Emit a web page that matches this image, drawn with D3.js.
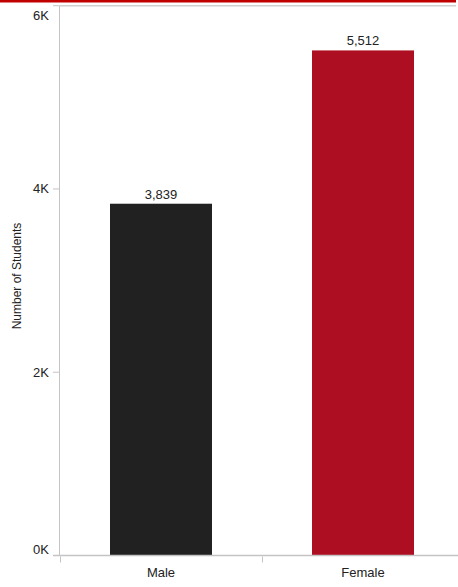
<!DOCTYPE html>
<html>
<head>
<meta charset="utf-8">
<script src="https://cdn.jsdelivr.net/npm/d3@7"></script>
<style>
  body { margin: 0; background: #fff; }
  text { font-family: "Liberation Sans", Arial, sans-serif; fill: #222; }
</style>
</head>
<body>
<div id="chart"></div>
<script>
// data
var categories = ["Male", "Female"];
var students = [3839, 5512];
var barColors = ["#212121", "#ae0e22"];
var yTicks = [0, 2000, 4000, 6000];

var w = 458, h = 587;
// plot edges (note: "top" is reserved on window, so use plotTop etc.)
var plotLeft = 60, plotRight = 464, plotTop = 5.7, plotBottom = 555.5;

var svg = d3.select("#chart").append("svg")
    .attr("width", w)
    .attr("height", h);

// red strip at the very top
svg.append("rect")
    .attr("x", 0).attr("y", 0)
    .attr("width", 456).attr("height", 2.5)
    .attr("fill", "#c00000");

var x = d3.scaleBand()
    .domain(categories)
    .range([plotLeft, plotRight])
    .paddingInner(0)
    .paddingOuter(0);

var y = d3.scaleLinear()
    .domain([0, 6000])
    .range([plotBottom, plotTop]);

// top border line
svg.append("line")
    .attr("x1", plotLeft).attr("x2", 456)
    .attr("y1", y(6000)).attr("y2", y(6000))
    .attr("stroke", "#d0d0d0").attr("stroke-width", 1.5);

// bars
svg.selectAll("rect.bar")
    .data(students)
    .enter()
    .append("rect")
    .attr("class", "bar")
    .attr("x", function(d, i) { return x(categories[i]) + x.bandwidth() / 2 - 51; })
    .attr("width", 102)
    .attr("y", function(d) { return y(d); })
    .attr("height", function(d) { return y(0) - y(d); })
    .attr("fill", function(d, i) { return barColors[i]; });

// value labels
svg.selectAll("text.val")
    .data(students)
    .enter()
    .append("text")
    .attr("class", "val")
    .attr("x", function(d, i) { return x(categories[i]) + x.bandwidth() / 2; })
    .attr("y", function(d) { return y(d) - 5; })
    .attr("text-anchor", "middle")
    .style("font-size", "13px")
    .text(function(d) { return d3.format(",")(d); });

// y axis line
svg.append("line")
    .attr("x1", plotLeft - 0.5).attr("x2", plotLeft - 0.5)
    .attr("y1", y(6000)).attr("y2", plotBottom)
    .attr("stroke", "#c4c4c4").attr("stroke-width", 1);

// y ticks and labels
svg.selectAll("line.ytick")
    .data(yTicks)
    .enter()
    .append("line")
    .attr("class", "ytick")
    .attr("x1", plotLeft - 7).attr("x2", plotLeft - 0.5)
    .attr("y1", function(d) { return y(d); })
    .attr("y2", function(d) { return y(d); })
    .attr("stroke", "#c4c4c4");

svg.selectAll("text.ylab")
    .data(yTicks)
    .enter()
    .append("text")
    .attr("class", "ylab")
    .attr("x", plotLeft - 11)
    .attr("y", function(d) {
        // keep the end labels inside the plot like the original
        var yy = y(d);
        if (d === 6000) yy = y(d) + 10;
        if (d === 0) yy = y(d) - 6;
        return yy + 4.5;
    })
    .attr("text-anchor", "end")
    .style("font-size", "13px")
    .text(function(d) { return (d / 1000) + "K"; });

// x baseline
svg.append("line")
    .attr("x1", plotLeft - 7).attr("x2", 458)
    .attr("y1", plotBottom).attr("y2", plotBottom)
    .attr("stroke", "#c4c4c4").attr("stroke-width", 1.5);

// x ticks at band edges
svg.selectAll("line.xtick")
    .data(categories)
    .enter()
    .append("line")
    .attr("class", "xtick")
    .attr("x1", function(d) { return x(d) + 0.5; })
    .attr("x2", function(d) { return x(d) + 0.5; })
    .attr("y1", plotBottom + 1).attr("y2", plotBottom + 7)
    .attr("stroke", "#c4c4c4");

svg.selectAll("text.xlab")
    .data(categories)
    .enter()
    .append("text")
    .attr("class", "xlab")
    .attr("x", function(d) { return x(d) + x.bandwidth() / 2; })
    .attr("y", 577)
    .attr("text-anchor", "middle")
    .style("font-size", "13px")
    .text(function(d) { return d; });

// y axis title
svg.append("text")
    .attr("transform", "translate(21, 276) rotate(-90)")
    .attr("text-anchor", "middle")
    .style("font-size", "12px")
    .text("Number of Students");
</script>
</body>
</html>
